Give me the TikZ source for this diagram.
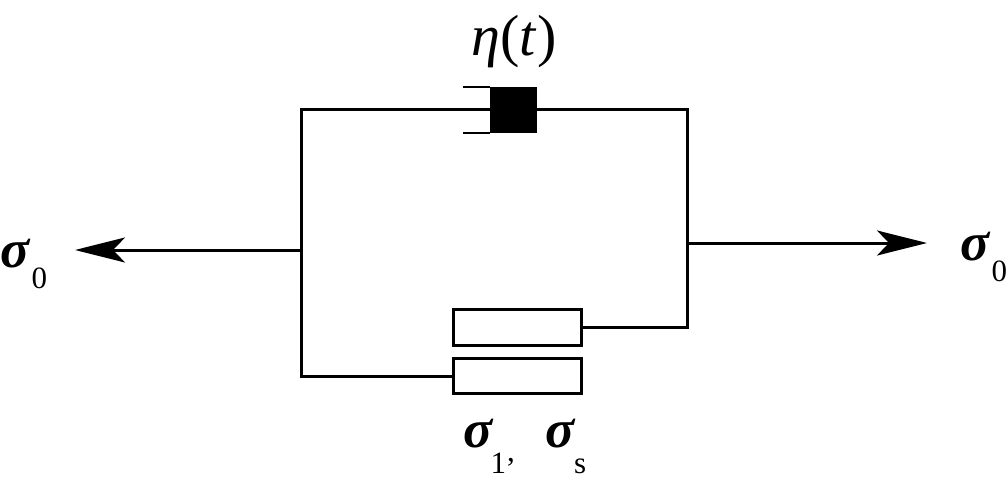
\documentclass[tikz,border=0pt]{standalone}
\usepackage{fontspec}
\setmainfont{Liberation Serif}
\usetikzlibrary{arrows.meta}
\newcommand{\lowsub}[2][21pt]{\raisebox{-#1}{\fontsize{31}{31}\selectfont #2}}
\newcommand{\bigsig}{\textbf{\textit{σ}}}
\begin{document}
\begin{tikzpicture}[x=1pt,y=-1pt,
  wire/.style={line width=3pt},
  thin wire/.style={line width=2.5pt},
  slider/.style={draw,line width=3pt,minimum width=128pt,inner sep=0pt},
  force/.style={line width=3pt,-{Stealth[length=50pt,width=25pt,inset=12pt]}},
  lbl/.style={inner sep=0pt,font=\fontsize{54}{54}\selectfont}]
\useasboundingbox (0,0) rectangle (1008,492);
% dashpot piston
\node[fill=black,minimum width=47pt,minimum height=46pt,inner sep=0pt,outer sep=0pt] (blk) at (513.5,110) {};
\coordinate (cylT) at (463,87);
\coordinate (cylB) at (463,133);
\draw[thin wire] (cylT) -- (blk.north west);
\draw[thin wire] (cylB) -- (blk.south west);
% slider boxes
\node[slider,minimum height=36pt] (up) at (517.5,327) {};
\node[slider,minimum height=35pt] (lo) at (517.5,376) {};
% junctions
\coordinate (TL) at (301,110);
\coordinate (BL) at (301,376);
\coordinate (TR) at (687,110);
\coordinate (BR) at (687,327);
\coordinate (LA) at (301,250);
\coordinate (RA) at (687,243);
\coordinate (LT) at (75,250);
\coordinate (RT) at (927,243);
\draw[wire] (blk.west) -- (TL) -- (BL) -- (lo.west);
\draw[wire] (blk.east) -- (TR) -- (BR) -- (up.east);
\draw[force] (LA) -- (LT);
\draw[force] (RA) -- (RT);
% labels
\node[lbl,anchor=base] (eta) at (514,56) {\fontsize{58}{58}\selectfont\textit{η}(\textit{t})};
\node[lbl,anchor=base west] (s0l) at (0,267) {\bigsig\kern1pt\lowsub{0}};
\node[lbl,anchor=base west] (s0r) at (960,260) {\bigsig\kern1pt\lowsub{0}};
\node[lbl,anchor=base west] (s1) at (463,447) {\bigsig\kern-3pt\lowsub[26pt]{1\kern1pt\raisebox{12pt}{,}}\hspace{31pt}\bigsig\kern-2pt\lowsub[26pt]{s}};
\end{tikzpicture}
\end{document}
